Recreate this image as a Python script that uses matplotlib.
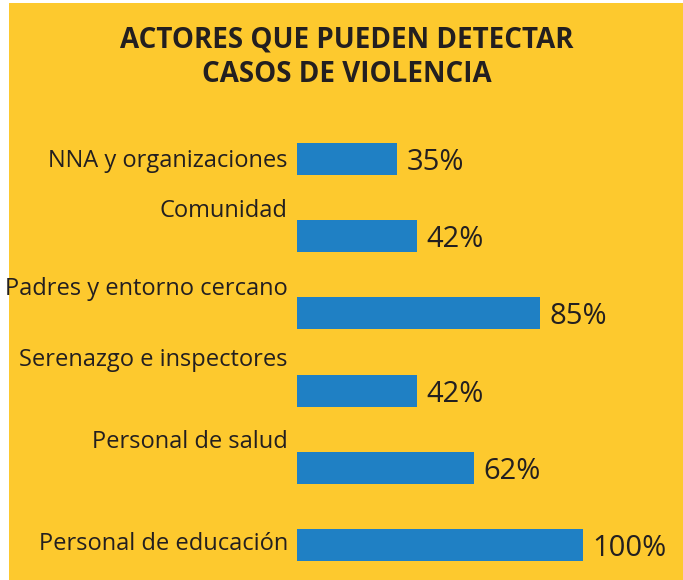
import matplotlib
matplotlib.use('agg')
import matplotlib.pyplot as plt
from matplotlib.patches import Rectangle

# Data
actores = ['NNA y organizaciones', 'Comunidad', 'Padres y entorno cercano',
           'Serenazgo e inspectores', 'Personal de salud', 'Personal de educación']
porcentajes = [35, 42, 85, 42, 62, 100]
titulo = ['ACTORES QUE PUEDEN DETECTAR', 'CASOS DE VIOLENCIA']

# layout: vertical shift of each category label relative to its bar
label_shift = [0.0, -0.35, -0.34, -0.42, -0.36, -0.04]

amarillo = '#FDC92E'
azul = '#1F80C4'
texto = '#231F20'

plt.rcParams['font.family'] = ['Open Sans', 'DejaVu Sans']

W, H = 683, 580
fig = plt.figure(figsize=(W / 100, H / 100), dpi=100)
fig.patch.set_facecolor('white')
fig.patches.append(Rectangle((9 / W, -0.01), 1, 1.01 - 3 / H, transform=fig.transFigure,
                             facecolor=amarillo, edgecolor='none', zorder=-1))

fig.text(347 / W, 1 - 48 / H, titulo[0], ha='center', va='baseline',
         fontsize=20, fontweight='bold', color=texto)
fig.text(347 / W, 1 - 82 / H, titulo[1], ha='center', va='baseline',
         fontsize=20, fontweight='bold', color=texto)

# axes: x 0..100 spans pixels 297..583, bars every 77.2 px starting at y=159
step = 77.2
top_px = 159 - 0.5 * step
bot_px = 580
ax = fig.add_axes([297 / W, 1 - bot_px / H, 286 / W, (bot_px - top_px) / H])
ax.set_xlim(0, 100)
ax.set_ylim((bot_px - 159) / step, -0.5)
ax.axis('off')

pos = list(range(len(actores)))
ax.barh(pos, porcentajes, height=32 / step, color=azul, edgecolor='none')

for p, nombre, v, s in zip(pos, actores, porcentajes, label_shift):
    ax.text(-3.2, p + s + 8 / step, nombre, ha='right', va='baseline',
            fontsize=17, color=texto, clip_on=False)
    ax.text(v + 3.2, p + 11 / step, f'{v}%', ha='left', va='baseline',
            fontsize=21, color=texto, clip_on=False)

fig.savefig('out.png', dpi=100, facecolor=fig.get_facecolor())
